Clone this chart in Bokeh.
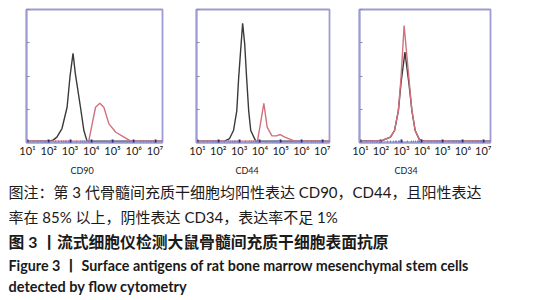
from bokeh.plotting import figure
from bokeh.models import Range1d, FixedTicker, Title, CustomLabelingPolicy
from bokeh.layouts import row, column
from bokeh.embed import file_html
from bokeh.resources import INLINE
from bokeh.core.properties import value
import math

# ---------------- data (x in log10 decades, y = relative cell count) ----------------
decades = [1, 2, 3, 4, 5, 6, 7]
tick_labels = ["10¹", "10²", "10³", "10⁴", "10⁵", "10⁶", "10⁷"]
markers = ["CD90", "CD44", "CD34"]

cd90_ctrl_x = [0.95, 2.0, 2.2, 2.38, 2.62, 2.86, 3.0, 3.14, 3.25, 3.49, 3.65, 3.8, 7.35]
cd90_ctrl_y = [1.0, 1.0, 1.8, 4.0, 10.5, 26.5, 50.0, 67.0, 51.6, 26.5, 9.0, 1.0, 1.0]
cd90_pos_x = [0.95, 3.88, 4.04, 4.2, 4.4, 4.59, 4.83, 5.15, 5.54, 5.86, 7.35]
cd90_pos_y = [1.0, 1.0, 14.0, 26.5, 29.5, 26.5, 14.0, 7.7, 4.0, 1.0, 1.0]

cd44_ctrl_x = [0.95, 2.3, 2.54, 2.73, 2.89, 2.98, 3.17, 3.27, 3.36, 3.46, 3.56, 3.8, 7.35]
cd44_ctrl_y = [1.0, 1.0, 3.0, 9.0, 24.0, 49.0, 89.7, 74.0, 49.0, 24.0, 9.0, 1.0, 1.0]
cd44_pos_x = [0.95, 3.88, 4.0, 4.19, 4.35, 4.58, 4.8, 4.98, 5.2, 5.68, 7.35]
cd44_pos_y = [1.0, 1.0, 11.5, 29.5, 11.5, 5.0, 5.0, 6.0, 4.0, 1.0, 1.0]

cd34_ctrl_x = [0.95, 2.06, 2.46, 2.66, 2.85, 2.98, 3.17, 3.36, 3.51, 3.67, 3.88, 4.12, 7.35]
cd34_ctrl_y = [1.0, 1.5, 4.0, 9.0, 24.0, 45.0, 68.0, 45.0, 24.0, 9.0, 2.0, 1.0, 1.0]
cd34_pos_x = [0.95, 2.06, 2.46, 2.66, 2.85, 2.98, 3.13, 3.36, 3.51, 3.67, 3.88, 4.12, 7.35]
cd34_pos_y = [1.0, 1.5, 4.0, 9.0, 24.0, 49.0, 88.0, 49.0, 24.0, 9.0, 2.0, 1.0, 1.0]

caption_lines = [
    "图注：第 3 代骨髓间充质干细胞均阳性表达 CD90，CD44，且阳性表达",
    "率在 85% 以上，阴性表达 CD34，表达率不足 1%",
    "图 3 丨流式细胞仪检测大鼠骨髓间充质干细胞表面抗原",
    "Figure 3 丨 Surface antigens of rat bone marrow mesenchymal stem cells",
    "detected by flow cytometry",
]

# ---------------- styling ----------------
FRAME = "#9c9cd2"
CTRL = "#3a3a3a"
POS = "#d2707c"
minor = [d + math.log10(k) for d in range(1, 7) for k in range(2, 10)]
no_labels = CustomLabelingPolicy(code="""
    for (const i of Array.from(indices)) { indices.unset(i) }
    return indices
""")


def panel(name, cx, cy, sx, sy, fw, left, right, title_offset):
    p = figure(frame_width=fw, frame_height=133,
               x_range=Range1d(0.95, 7.35), y_range=Range1d(0, 100),
               output_backend="svg", toolbar_location=None,
               min_border_left=left, min_border_right=right,
               min_border_top=9, min_border_bottom=36)
    p.grid.visible = False
    p.outline_line_color = FRAME
    p.outline_line_width = 1.8
    p.line(cx, cy, color=CTRL, line_width=1.4)
    p.line(sx, sy, color=POS, line_width=1.4)

    xa = p.xaxis[0]
    xa.ticker = FixedTicker(ticks=decades, minor_ticks=minor)
    xa.major_label_overrides = {d: l for d, l in zip(decades, tick_labels)}
    xa.major_label_text_font = "Lato"
    xa.major_label_text_font_size = "11px"
    xa.major_label_text_color = "#1a1a1a"
    xa.major_label_standoff = 1
    xa.axis_line_color = FRAME
    xa.axis_line_width = 1.8
    xa.major_tick_in = 3
    xa.major_tick_out = 0
    xa.major_tick_line_color = "#2a2a8a"
    xa.major_tick_line_width = 2
    xa.minor_tick_in = 2
    xa.minor_tick_out = 0
    xa.minor_tick_line_color = "#8080c0"

    ya = p.yaxis[0]
    ya.ticker = FixedTicker(ticks=[0, 25, 50, 75, 100], minor_ticks=[])
    ya.major_label_policy = no_labels
    ya.axis_line_color = FRAME
    ya.axis_line_width = 1.8
    ya.major_tick_in = 3
    ya.major_tick_out = 0
    ya.major_tick_line_color = "#8888aa"

    p.add_layout(Title(text=name, align="left", offset=title_offset, standoff=7,
                       text_font="Lato", text_font_size="9px",
                       text_font_style="normal", text_color="#1a1a1a"), "below")
    return p


p1 = panel(markers[0], cd90_ctrl_x, cd90_ctrl_y, cd90_pos_x, cd90_pos_y, 136, 26, 8, 44)
p2 = panel(markers[1], cd44_ctrl_x, cd44_ctrl_y, cd44_pos_x, cd44_pos_y, 133, 13, 4, 39)
p3 = panel(markers[2], cd34_ctrl_x, cd34_ctrl_y, cd34_pos_x, cd34_pos_y, 131, 13, 80, 35)

cap = figure(width=544, height=122, x_range=Range1d(0, 544), y_range=Range1d(122, 0),
             output_backend="svg", toolbar_location=None,
             min_border_left=0, min_border_right=0, min_border_top=0, min_border_bottom=0)
cap.axis.visible = False
cap.grid.visible = False
cap.outline_line_color = None

cap_y = [12, 37, 62, 86, 107]
fonts = ["Lato, 'Noto Sans CJK SC'"] * 5
sizes = ["15px", "15px", "15.8px", "14.3px", "14.5px"]
styles = ["normal", "normal", "bold", "bold", "bold"]
for t, yy, f, s, st in zip(caption_lines, cap_y, fonts, sizes, styles):
    cap.text(x=[8], y=[yy], text=[t], text_font=value(f), text_font_size=s,
             text_font_style=st, text_baseline="middle", text_align="left",
             text_color="#1a1a1a")

layout = column(row(p1, p2, p3), cap)
open("out.html", "w").write(file_html(layout, INLINE))
